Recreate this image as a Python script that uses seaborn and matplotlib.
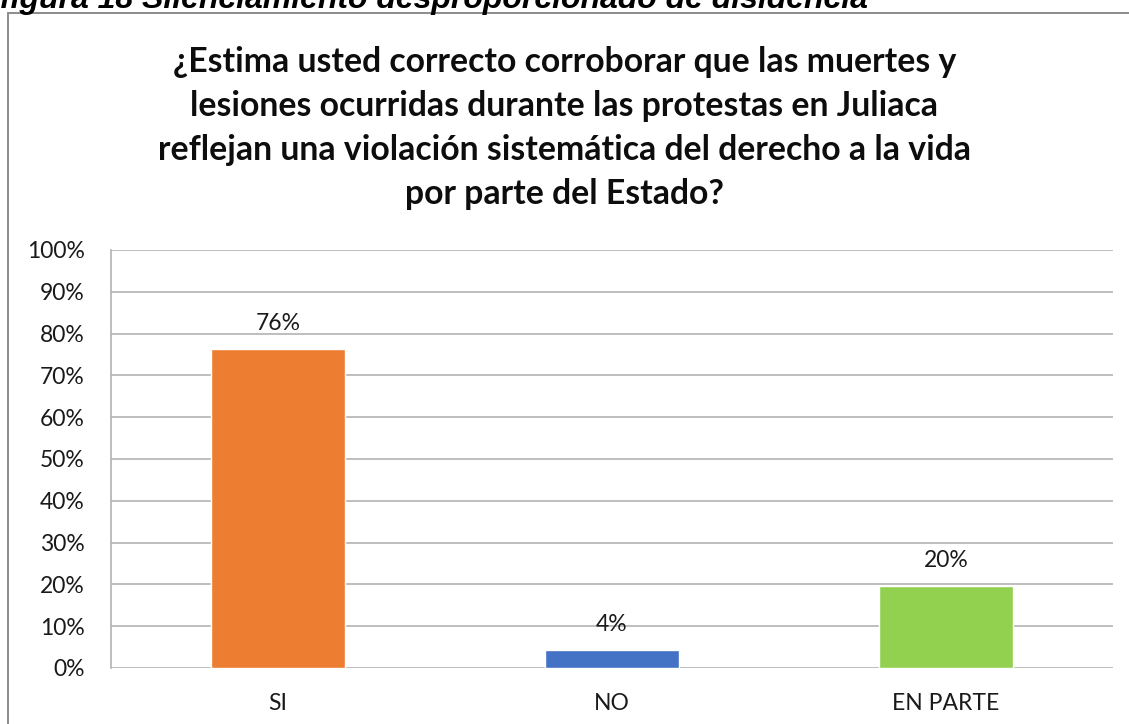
import matplotlib
matplotlib.use("Agg")
import matplotlib.pyplot as plt
import seaborn as sns
import pandas as pd
from matplotlib.patches import Rectangle

categories = ["SI", "NO", "EN PARTE"]
values = [76.2, 4.3, 19.6]
labels = ["76%", "4%", "20%"]
colors = ["#ED7D31", "#4472C4", "#92D050"]
yticks = [0, 10, 20, 30, 40, 50, 60, 70, 80, 90, 100]
title = ("¿Estima usted correcto corroborar que las muertes y\n"
         "lesiones ocurridas durante las protestas en Juliaca\n"
         "reflejan una violación sistemática del derecho a la vida\n"
         "por parte del Estado?")
caption = "figura 18 Silenciamiento desproporcionado de disidencia"

sns.set_theme(style="white")
plt.rcParams['font.family'] = ['Lato', 'DejaVu Sans']

W, H = 1129, 724
fig = plt.figure(figsize=(W / 100, H / 100), dpi=100)
ax = fig.add_axes([111 / W, 1 - 668 / H, (1113 - 111) / W, (668 - 250) / H])

df = pd.DataFrame({"cat": categories, "val": values})
sns.barplot(data=df, x="cat", y="val", hue="cat", palette=colors,
            width=0.4, legend=False, ax=ax, saturation=1)

ax.set_ylim(0, 100)
ax.set_xlim(-0.5, 2.5)
ax.set_yticks(yticks)
ax.set_yticklabels([f"{t}%" for t in yticks])
ax.yaxis.grid(True, color="#B3B3B3", linewidth=1.2)
ax.set_axisbelow(True)
for s in ["top", "right", "bottom"]:
    ax.spines[s].set_visible(False)
ax.spines["left"].set_color("#B3B3B3")
ax.spines["left"].set_linewidth(1.2)
ax.set_xlabel("")
ax.set_ylabel("")
ax.tick_params(axis="y", length=0, pad=19, labelsize=16.5, labelcolor="#1a1a1a")
ax.tick_params(axis="x", length=0, pad=18, labelsize=16.5, labelcolor="#1a1a1a")

bars = [p for c in ax.containers for p in c]
for p, lab in zip(bars, labels):
    ax.annotate(lab, (p.get_x() + p.get_width() / 2, p.get_height()),
                xytext=(0, 11), textcoords="offset points",
                ha="center", va="bottom", fontsize=16.5, color="#1a1a1a")

fig.text(0.5, 1 - 128 / H, title, ha="center", va="center",
         fontsize=24.3, fontweight="bold", linespacing=1.45, color="#0d0d0d")

fig.text(0.0, 1 - 8 / H, caption, ha="left", va="baseline",
         fontsize=23, fontweight="bold", style="italic",
         family=["Liberation Sans", "DejaVu Sans"], color="#000000")

fig.patches.append(Rectangle((8 / W, -0.05), 1.2, 1 - 13 / H + 0.05,
                             transform=fig.transFigure, fill=False,
                             edgecolor="#8C8C8C", linewidth=1.4))

fig.savefig("out.png", dpi=100)
